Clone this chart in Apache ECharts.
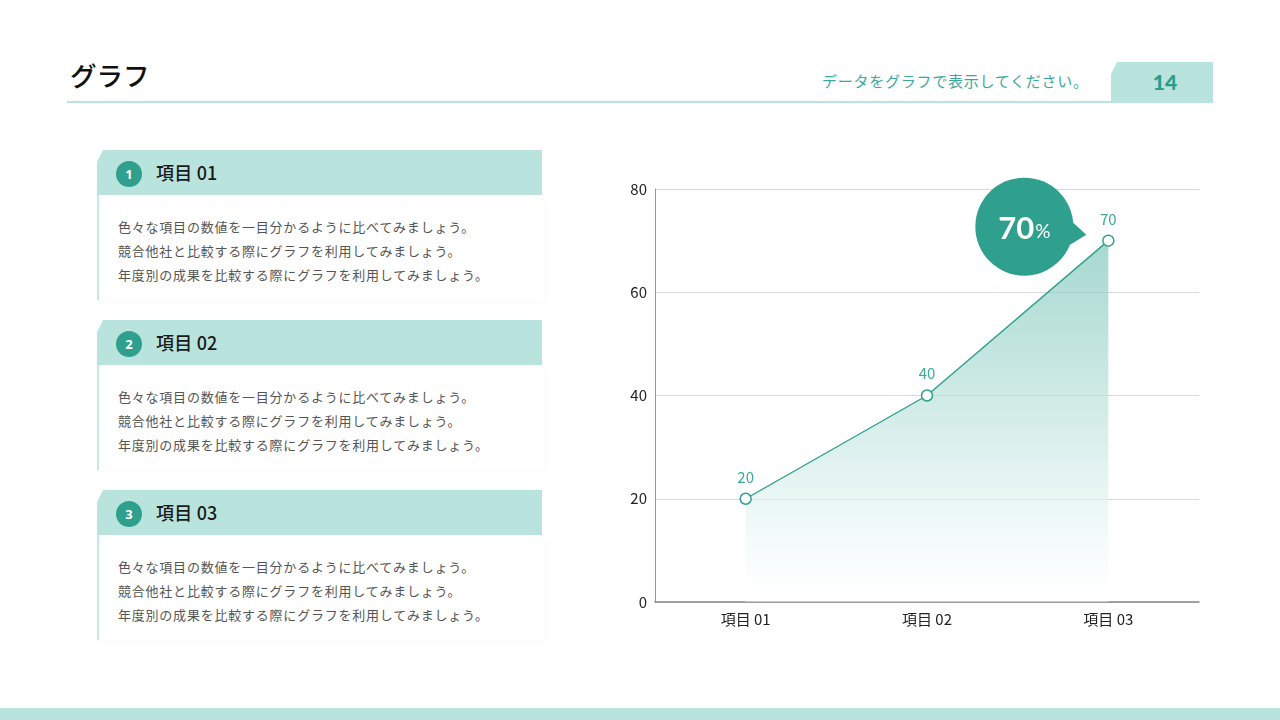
<!DOCTYPE html>
<html><head><meta charset="utf-8">
<script src="https://cdn.jsdelivr.net/npm/echarts@6/dist/echarts.min.js"></script>
<style>
html,body{margin:0;padding:0;width:1280px;height:720px;background:#fff;overflow:hidden;font-family:"Noto Sans CJK JP","Noto Sans",sans-serif;}
#page{position:relative;width:1280px;height:720px;}
.title{position:absolute;left:70px;top:57px;font-size:26.5px;font-weight:500;color:#111;line-height:36px;}
.hline{position:absolute;left:67px;top:101px;width:1146px;height:2px;background:#b8e4dd;}
.sub{position:absolute;left:822px;top:70px;font-size:15px;color:#3aa89a;line-height:22px;letter-spacing:0.75px;}
.pg{position:absolute;left:1111px;top:62px;width:102px;height:40px;background:#b8e4dd;clip-path:polygon(6px 0,100% 0,100% 100%,0 100%,0 12px);}
.pg span{position:absolute;left:0;width:108px;top:7px;text-align:center;font-family:Lato,"Open Sans",sans-serif;font-weight:900;font-size:21px;color:#2c9c88;}
.bottom{position:absolute;left:0;top:708px;width:1280px;height:12px;background:#b8e4dd;}
.panel{position:absolute;left:97px;width:445px;}
.ph{position:absolute;left:0;top:0;width:445px;height:45px;background:#b8e4dd;clip-path:polygon(6px 0,100% 0,100% 100%,0 100%,0 12px);}
.badge{position:absolute;left:19px;top:11px;width:26px;height:26px;border-radius:50%;background:#2fa08e;color:#fff;font-size:13px;font-weight:bold;text-align:center;line-height:26px;font-family:"Noto Sans",sans-serif;}
.pt{position:absolute;left:59px;top:9px;font-size:18px;font-weight:500;color:#1a1a1a;line-height:27px;letter-spacing:0.2px;}
.pb{position:absolute;left:0;top:45px;width:445px;height:105px;border-left:2px solid #c6e9e3;box-shadow:3px 4px 8px rgba(0,0,0,0.015);}
.pb div{position:absolute;left:19px;font-size:13px;color:#555;line-height:20px;letter-spacing:0.78px;white-space:nowrap;}
#chart{position:absolute;left:0;top:0;width:1280px;height:720px;}
</style></head>
<body><div id="page">
<div class="title">グラフ</div>
<div class="hline"></div>
<div class="sub">データをグラフで表示してください。</div>
<div class="pg"><span>14</span></div>
<div id="panels"></div>
<div class="bottom"></div>
<div id="chart"></div>
</div>
<script>
const categories = ['項目 01', '項目 02', '項目 03'];
const values = [20, 40, 70];
const yTicks = [0, 20, 40, 60, 80];
const panelTitles = ['項目 01', '項目 02', '項目 03'];
const panelLines = [
  '色々な項目の数値を一目分かるように比べてみましょう。',
  '競合他社と比較する際にグラフを利用してみましょう。',
  '年度別の成果を比較する際にグラフを利用してみましょう。'
];
const highlight = '70';

// left panels
const pc = document.getElementById('panels');
panelTitles.forEach((t, i) => {
  const top = 150 + i * 170;
  const d = document.createElement('div');
  d.className = 'panel';
  d.style.top = top + 'px';
  d.innerHTML = '<div class="ph"></div><div class="badge">' + (i + 1) + '</div><div class="pt">' + t + '</div>' +
    '<div class="pb">' + panelLines.map((l, k) => '<div style="top:' + (22 + k * 24) + 'px">' + l + '</div>').join('') + '</div>';
  pc.appendChild(d);
});

const chart = echarts.init(document.getElementById('chart'));
const teal = '#2fa08e';
chart.setOption({
  animation: false,
  grid: { left: 655, right: 81, top: 189, bottom: 118 },
  xAxis: {
    type: 'category', data: categories, boundaryGap: true,
    axisLine: { lineStyle: { color: '#888', width: 1.5 } },
    axisTick: { show: false },
    axisLabel: { color: '#222', fontSize: 15, margin: 10, fontFamily: 'Noto Sans CJK JP' }
  },
  yAxis: {
    type: 'value', min: yTicks[0], max: yTicks[yTicks.length - 1], interval: 20,
    axisLine: { show: true, lineStyle: { color: '#999', width: 1 } },
    axisTick: { show: false },
    splitLine: { lineStyle: { color: '#d9d9d9' } },
    axisLabel: { color: '#222', fontSize: 15, margin: 8, fontFamily: 'Noto Sans CJK JP' }
  },
  series: [{
    type: 'line', data: values,
    symbol: 'circle', symbolSize: 11,
    itemStyle: { color: '#fff', borderColor: teal, borderWidth: 1.5 },
    lineStyle: { color: teal, width: 1.4 },
    label: { show: true, position: 'top', distance: 8, color: '#3aa89a', fontSize: 15, fontFamily: 'Noto Sans CJK JP' },
    areaStyle: {
      color: new echarts.graphic.LinearGradient(0, 0, 0, 1, [
        { offset: 0, color: 'rgba(128,200,188,1)' },
        { offset: 0.4, color: 'rgba(178,222,214,0.95)' },
        { offset: 0.75, color: 'rgba(226,244,241,0.9)' },
        { offset: 0.93, color: 'rgba(250,253,253,0.8)' },
        { offset: 1, color: 'rgba(255,255,255,0.6)' }
      ])
    }
  }]
});

const p = chart.convertToPixel({ seriesIndex: 0 }, [2, values[2]]);
const cx = p[0] - 84, cy = p[1] - 14;
chart.setOption({
  graphic: [{
    type: 'group', z: 100,
    children: [
      { type: 'polygon', shape: { points: [[cx + 38, cy - 14], [cx + 62, cy + 8], [cx + 36, cy + 24]] }, style: { fill: teal } },
      { type: 'circle', shape: { cx: cx, cy: cy, r: 49 }, style: { fill: teal } },
      { type: 'text', x: cx, y: cy + 2, style: {
          text: '{a|' + highlight + '}{b|%}', align: 'center', verticalAlign: 'middle',
          rich: {
            a: { fontSize: 31, fontWeight: 'bold', fill: '#fff', fontFamily: 'Lato', color: '#fff' },
            b: { fontSize: 19, fill: '#fff', color: '#fff', fontFamily: 'Lato', padding: [6, 0, 0, 1] }
          } } }
    ]
  }]
});
</script>
</body></html>
